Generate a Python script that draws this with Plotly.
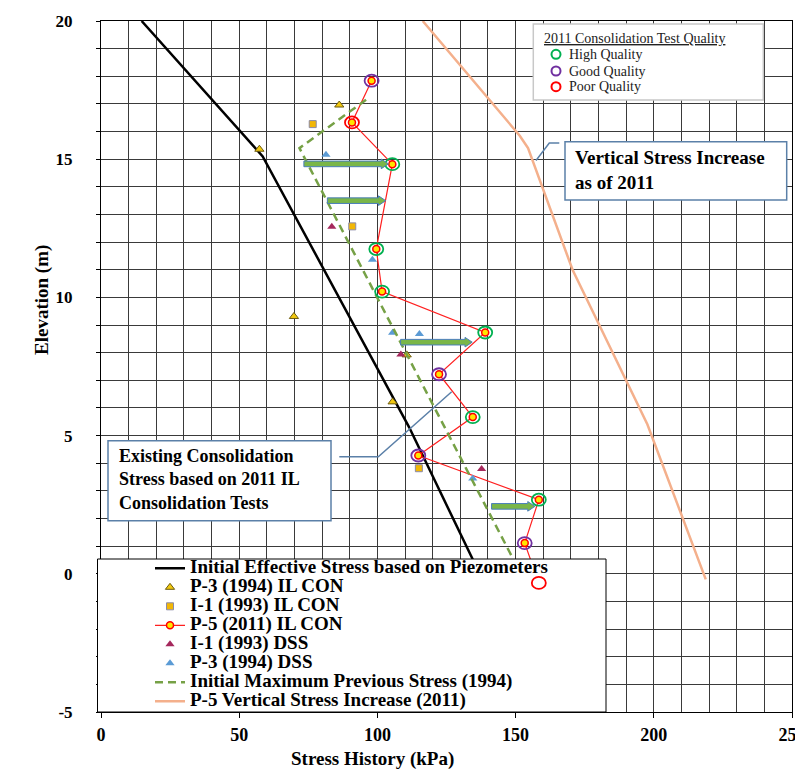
import plotly.graph_objects as go

# ---------------- data ----------------
black_x = [14.7, 58.5, 111.5, 134.5, 137.0]
black_y = [20.0, 15.1, 5.3, 0.56, 0.0]

p3_il_x = [86.2, 57.3, 69.8, 110.6, 105.5]
p3_il_y = [16.96, 15.36, 9.31, 7.92, 6.22]

i1_il_x = [76.6, 90.9, 115.0]
i1_il_y = [16.27, 12.57, 3.82]

p5_x = [97.9, 90.8, 105.4, 99.6, 101.7, 139.0, 122.3, 134.5, 114.8, 158.4, 153.3, 158.4]
p5_y = [17.84, 16.33, 14.82, 11.75, 10.21, 8.73, 7.22, 5.67, 4.28, 2.68, 1.11, -0.33]
p5_quality = ["Good", "Poor", "High", "High", "High", "High", "Good", "High", "Good", "High", "Good", "Poor"]

i1_dss_x = [83.5, 108.5, 137.7]
i1_dss_y = [12.56, 7.93, 3.79]

p3_dss_x = [81.4, 98.2, 105.5, 115.2, 134.5]
p3_dss_y = [15.16, 11.36, 8.72, 8.68, 3.45]

green_x = [95.9, 71.8, 149.0, 151.9]
green_y = [17.15, 15.4, 0.56, 0.0]

orange_x = [116.4, 151.5, 154.5, 170.6, 197.7, 218.8]
orange_y = [20.0, 15.85, 15.4, 11.0, 5.4, -0.2]

arrow_start = [73.4, 81.9, 108.4, 141.3]
arrow_end = [104.0, 103.0, 134.3, 157.0]
arrow_elev = [14.83, 13.5, 8.38, 2.44]

quality_names = ["High Quality", "Good Quality", "Poor Quality"]
quality_colors = {"High": "#00b050", "Good": "#7030a0", "Poor": "#ff0000"}

x_ticks = [0, 50, 100, 150, 200, 250]
y_ticks = [-5, 0, 5, 10, 15, 20]

# ---------------- layout helpers ----------------
# page body has an 8px margin; window-pixel targets are converted accordingly
BODY = 8
FIG_W, FIG_H = 803 - BODY, 776 - BODY
PL, PR, PT, PB = 101, 792, 21, 712   # plot area in window pixels
W, H = PR - PL, PB - PT


def fx(p):
    return (p - PL) / W


def fy(p):
    return (PB - p) / H


SERIF = "Liberation Serif"
LEG = '<span style="font-size:19px">{}</span>'

fig = go.Figure()

fig.add_trace(go.Scatter(x=black_x, y=black_y, mode="lines",
                         line=dict(color="black", width=2.5),
                         name=LEG.format("Initial Effective Stress based on Piezometers")))
fig.add_trace(go.Scatter(x=p3_il_x, y=p3_il_y, mode="markers",
                         marker=dict(symbol="triangle-up", size=8, color="#f2c80f",
                                     line=dict(color="#6b5b10", width=1)),
                         name=LEG.format("P-3 (1994) IL CON")))
fig.add_trace(go.Scatter(x=i1_il_x, y=i1_il_y, mode="markers",
                         marker=dict(symbol="square", size=7, color="#f2b705",
                                     line=dict(color="#8a8aa8", width=1)),
                         name=LEG.format("I-1 (1993) IL CON")))
fig.add_trace(go.Scatter(x=p5_x, y=p5_y, mode="lines+markers",
                         line=dict(color="#ff2020", width=1.2),
                         marker=dict(symbol="circle", size=7, color="#ffe600",
                                     line=dict(color="#ff0000", width=1.5)),
                         name=LEG.format("P-5 (2011) IL CON")))
fig.add_trace(go.Scatter(x=i1_dss_x, y=i1_dss_y, mode="markers",
                         marker=dict(symbol="triangle-up", size=8, color="#a5285c"),
                         name=LEG.format("I-1 (1993) DSS")))
fig.add_trace(go.Scatter(x=p3_dss_x, y=p3_dss_y, mode="markers",
                         marker=dict(symbol="triangle-up", size=8, color="#5b9bd5"),
                         name=LEG.format("P-3 (1994) DSS")))
fig.add_trace(go.Scatter(x=green_x, y=green_y, mode="lines",
                         line=dict(color="#76a146", width=2.5, dash="8px,5px"),
                         name=LEG.format("Initial Maximum Previous Stress (1994)")))
fig.add_trace(go.Scatter(x=orange_x, y=orange_y, mode="lines",
                         line=dict(color="#f4b08c", width=2.5),
                         name=LEG.format("P-5 Vertical Stress Increase (2011)")))

shapes = []
# legend box (covers plot underneath)
shapes.append(dict(type="rect", xref="paper", yref="paper", layer="above",
                   x0=fx(97.5), x1=fx(606), y0=fy(712), y1=fy(559),
                   fillcolor="white", line=dict(color="black", width=1)))

# quality circles around P-5 points
for xv, yv, q in zip(p5_x, p5_y, p5_quality):
    shapes.append(dict(type="circle", xref="x", yref="y", layer="above",
                       xsizemode="pixel", ysizemode="pixel", xanchor=xv, yanchor=yv,
                       x0=-7, x1=7, y0=-6, y1=6,
                       line=dict(color=quality_colors[q], width=1.8)))

# block arrows
for xa, xb, ye in zip(arrow_start, arrow_end, arrow_elev):
    xh = xb - 2.6
    path = (f"M{xa},-2.8 L{xh},-2.8 L{xh},-4.8 L{xb},0 L{xh},4.8 "
            f"L{xh},2.8 L{xa},2.8 Z")
    shapes.append(dict(type="path", xref="x", yref="y", layer="above",
                       ysizemode="pixel", yanchor=ye, path=path,
                       fillcolor="#7ab648", line=dict(color="#4a7ebb", width=1)))

CALL = "#5b80a8"
# callout 1
shapes.append(dict(type="rect", xref="paper", yref="paper", layer="above",
                   x0=fx(565), x1=fx(786.7), y0=fy(200), y1=fy(141.7),
                   fillcolor="white", line=dict(color=CALL, width=1.5)))
shapes.append(dict(type="path", xref="paper", yref="paper", layer="above",
                   path=f"M{fx(536)},{fy(160.5)} L{fx(549.3)},{fy(143.1)} L{fx(559.3)},{fy(143.1)}",
                   line=dict(color=CALL, width=1.5)))
# callout 2
shapes.append(dict(type="rect", xref="paper", yref="paper", layer="above",
                   x0=fx(108), x1=fx(331), y0=fy(520.7), y1=fy(440.7),
                   fillcolor="white", line=dict(color=CALL, width=1.5)))
shapes.append(dict(type="path", xref="paper", yref="paper", layer="above",
                   path=f"M{fx(339.3)},{fy(456.7)} L{fx(378.3)},{fy(456.7)} L{fx(451.7)},{fy(391.7)}",
                   line=dict(color=CALL, width=1.5)))
# quality legend box
shapes.append(dict(type="rect", xref="paper", yref="paper", layer="above",
                   x0=fx(533.3), x1=fx(763.3), y0=fy(100), y1=fy(24),
                   fillcolor="white", line=dict(color="#c8c8c8", width=1.5)))
q_rows = [54.3, 71.0, 86.7]
for yy, key in zip(q_rows, ["High", "Good", "Poor"]):
    shapes.append(dict(type="circle", xref="paper", yref="paper", layer="above",
                       x0=fx(551.5), x1=fx(560.5), y0=fy(yy + 4.5), y1=fy(yy - 4.5),
                       line=dict(color=quality_colors[key], width=2)))

annotations = []
annotations.append(dict(xref="paper", yref="paper", x=fx(542), y=fy(38.5),
                        xanchor="left", yanchor="middle", showarrow=False,
                        text="<u>2011 Consolidation Test Quality</u>",
                        font=dict(family=SERIF, size=14, color="#222")))
for yy, nm in zip(q_rows, quality_names):
    annotations.append(dict(xref="paper", yref="paper", x=fx(566.5), y=fy(yy),
                            xanchor="left", yanchor="middle", showarrow=False,
                            text=nm, font=dict(family=SERIF, size=14, color="#222")))
annotations.append(dict(xref="paper", yref="paper", x=fx(573), y=fy(170),
                        xanchor="left", yanchor="middle", showarrow=False, align="left",
                        text="Vertical Stress Increase<br>as of 2011",
                        font=dict(family=SERIF, size=19, color="black", weight="bold")))
annotations.append(dict(xref="paper", yref="paper", x=fx(117), y=fy(479),
                        xanchor="left", yanchor="middle", showarrow=False, align="left",
                        text="Existing Consolidation<br>Stress based on 2011 IL<br>Consolidation Tests",
                        font=dict(family=SERIF, size=18, color="black", weight="bold")))
# axis titles
annotations.append(dict(xref="paper", yref="paper", x=fx(372), y=fy(759),
                        xanchor="center", yanchor="middle", showarrow=False,
                        text="Stress History (kPa)",
                        font=dict(family=SERIF, size=19, color="black", weight="bold")))
annotations.append(dict(xref="paper", yref="paper", x=fx(42), y=fy(300),
                        xanchor="center", yanchor="middle", showarrow=False, textangle=-90,
                        text="Elevation (m)",
                        font=dict(family=SERIF, size=19, color="black", weight="bold")))

GRID = "#3a3a3a"
fig.update_layout(
    width=FIG_W, height=FIG_H,
    margin=dict(l=PL - BODY, r=FIG_W - (PR - BODY), t=PT - BODY, b=FIG_H - (PB - BODY),
                autoexpand=False),
    paper_bgcolor="white", plot_bgcolor="white",
    showlegend=True,
    legend=dict(x=fx(150), y=fy(553.8), xanchor="left", yanchor="top",
                bgcolor="rgba(0,0,0,0)", borderwidth=0, tracegroupgap=0,
                font=dict(family=SERIF, size=12, color="black", weight="bold")),
    shapes=shapes, annotations=annotations,
    xaxis=dict(range=[0, 250], tickvals=x_ticks, ticktext=[str(v) for v in x_ticks],
               ticks="outside", ticklen=5, tickcolor="black",
               showgrid=False, zeroline=False,
               showline=True, linecolor="black", linewidth=1, mirror=True,
               minor=dict(dtick=10, tick0=0, showgrid=True, gridcolor=GRID, gridwidth=1),
               tickfont=dict(family=SERIF, size=18, color="black", weight="bold"),
               ticklabelstandoff=1, ticklabeloverflow="allow", automargin=False),
    yaxis=dict(range=[-5, 20], tickvals=y_ticks, ticktext=[str(v) for v in y_ticks],
               ticks="outside", ticklen=4, tickcolor="black",
               showgrid=False, zeroline=False,
               showline=True, linecolor="black", linewidth=1, mirror=True,
               minor=dict(dtick=1, tick0=0, ticks="outside", ticklen=4, tickcolor="black",
                          showgrid=True, gridcolor=GRID, gridwidth=1),
               tickfont=dict(family=SERIF, size=17, color="black", weight="bold"),
               ticklabelstandoff=20, automargin=False),
)

fig.write_html("out.html")
